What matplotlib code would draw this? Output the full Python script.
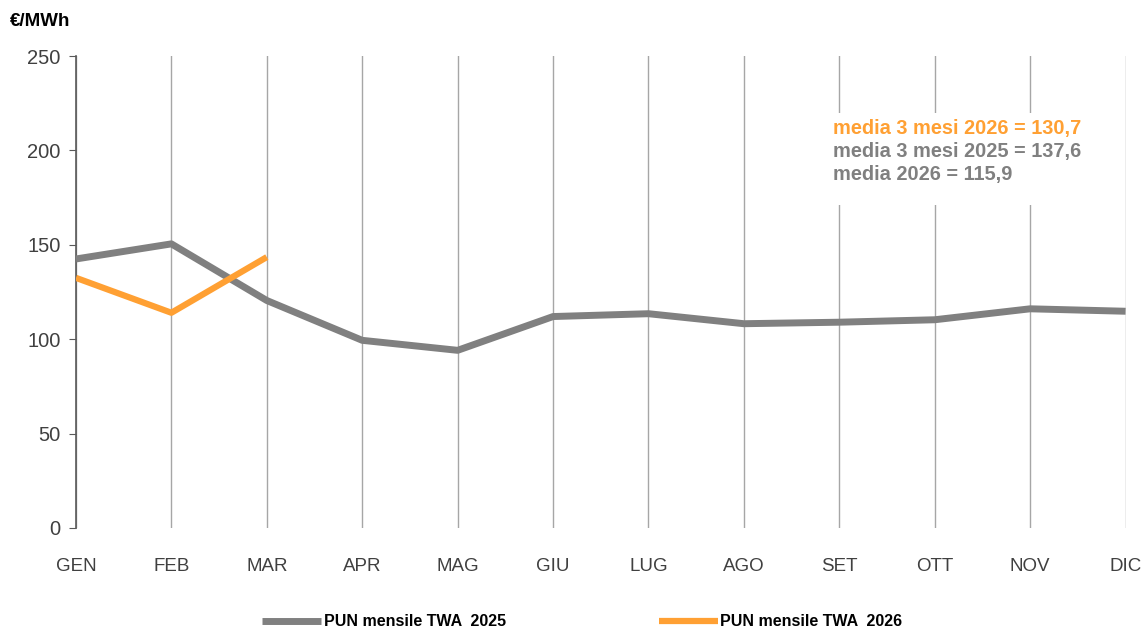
import matplotlib
matplotlib.use('Agg')
import matplotlib.pyplot as plt

plt.rcParams['font.family'] = ['Liberation Sans', 'DejaVu Sans']

# data
months = ['GEN', 'FEB', 'MAR', 'APR', 'MAG', 'GIU', 'LUG', 'AGO', 'SET', 'OTT', 'NOV', 'DIC']
pun_2025 = [142.5, 150.5, 120.5, 99.4, 94.1, 112.0, 113.5, 108.2, 109.0, 110.3, 116.1, 114.8]
pun_2026 = [132.5, 114.0, 143.5]
notes = ['media 3 mesi 2026 = 130,7', 'media 3 mesi 2025 = 137,6', 'media 2026 = 115,9']

gray = '#808080'
orange = '#FFA033'

fig = plt.figure(figsize=(11.44, 6.3), dpi=100)
ax = fig.add_axes([0.0664, 0.162, 0.9175, 0.749])

x = list(range(len(months)))
ax.plot(x, pun_2025, color=gray, lw=5, solid_capstyle='butt', label='PUN mensile TWA  2025', zorder=3)
ax.plot(x[:len(pun_2026)], pun_2026, color=orange, lw=4.5, solid_capstyle='butt',
        label='PUN mensile TWA  2026', zorder=4)

ax.set_xlim(0, 11)
ax.set_ylim(0, 250)
ax.set_yticks(range(0, 251, 50))
ax.set_xticks(x)
ax.set_xticklabels(months)
ax.grid(axis='x', color='#A6A6A6', lw=1)
ax.set_axisbelow(True)

for s in ['top', 'right', 'bottom']:
    ax.spines[s].set_visible(False)
ax.spines['left'].set_color('#595959')
ax.spines['left'].set_linewidth(1.2)
ax.tick_params(axis='y', length=5, color='#595959', labelsize=14.5, labelcolor='#404040', pad=6)
ax.tick_params(axis='x', length=0, labelsize=13.5, labelcolor='#404040', pad=22)

fig.text(0.009, 0.966, '€/MWh', fontsize=13.5, fontweight='bold', ha='left', va='center')

# white patch behind annotations hides gridlines
ax.add_patch(plt.Rectangle((7.9, 171), 2.7, 49, facecolor='white', edgecolor='none', zorder=2))
for i, (txt, col) in enumerate(zip(notes, [orange, gray, gray])):
    ax.text(7.93, 211.5 - i * 12.2, txt, color=col, fontsize=14.4, fontweight='bold',
            ha='left', va='center', zorder=5)

fig.legend(loc='center', bbox_to_anchor=(0.509, 0.013), ncol=2, frameon=False,
           handlelength=3.7, columnspacing=9.6, handletextpad=0.15,
           prop={'weight': 'bold', 'size': 11.5})

fig.savefig('out.png', dpi=100)
